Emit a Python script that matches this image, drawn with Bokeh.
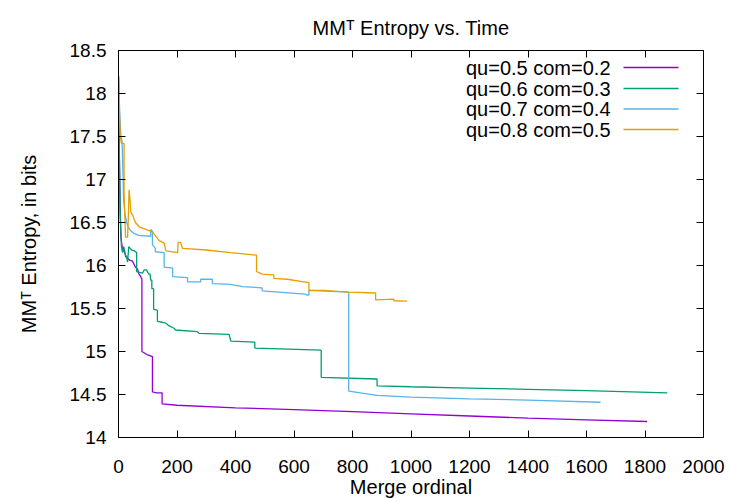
from bokeh.plotting import figure
from bokeh.models import Range1d, FixedTicker, LinearAxis, Label, Arrow, Title
from bokeh.embed import file_html
from bokeh.resources import INLINE

# ---------------- data ----------------
series_names = ["qu=0.5 com=0.2", "qu=0.6 com=0.3", "qu=0.7 com=0.4", "qu=0.8 com=0.5"]
series_colors = ["#9400D3", "#009E73", "#56B4E9", "#E69F00"]

q5_x = [0, 2, 4, 6, 8, 10, 15, 18, 25, 31, 40, 48, 58, 65, 70, 76, 80, 80, 90, 100, 116, 116, 130, 149, 149,
        200, 400, 600, 800, 1000, 1200, 1400, 1600, 1807]
q5_y = [18.2, 17.5, 17.0, 16.6, 16.35, 16.28, 16.16, 16.2, 16.1, 16.08, 16.06, 16.05, 15.98, 15.96, 15.9, 15.87, 15.84,
        15.0, 14.98, 14.96, 14.94, 14.53, 14.52, 14.52, 14.39,
        14.375, 14.345, 14.325, 14.30, 14.275, 14.25, 14.225, 14.205, 14.186]

q6_x = [0, 3, 6, 10, 14, 18, 24, 28, 31, 35, 45, 55, 62, 62, 72, 82, 88, 96, 100, 104, 108, 110, 114, 114, 120, 120,
        133, 133, 150, 162, 172, 190, 195, 270, 276, 378, 384, 466, 466, 693, 693, 884, 884, 998, 1200, 1400,
        1600, 1876]
q6_y = [18.2, 17.3, 16.6, 16.22, 16.15, 16.22, 16.12, 16.1, 16.04, 16.22, 16.18, 16.17, 16.15, 15.93, 15.92, 15.91,
        15.95, 15.95, 15.92, 15.9, 15.9, 15.83, 15.83, 15.73, 15.73, 15.49,
        15.48, 15.35, 15.34, 15.33, 15.30, 15.27, 15.25, 15.23, 15.21, 15.2, 15.12, 15.11, 15.04, 15.015, 14.70,
        14.68, 14.60, 14.59, 14.575, 14.56, 14.545, 14.52]

q7_x = [0, 4, 8, 12, 16, 17, 22, 28, 33, 40, 54, 70, 110, 110, 116, 116, 126, 126, 156, 156, 185, 185, 236, 236,
        281, 281, 321, 321, 383, 424, 491, 491, 547, 639, 645, 651, 651, 787, 787, 884, 998, 1200, 1400, 1648]
q7_y = [18.2, 17.8, 17.5, 17.45, 17.0, 16.8, 16.6, 16.5, 16.45, 16.41, 16.37, 16.35, 16.34, 16.42, 16.4, 16.24,
        16.2, 16.16, 16.15, 15.98, 15.97, 15.87, 15.86, 15.81, 15.81, 15.84, 15.84, 15.79, 15.78, 15.755, 15.74,
        15.705, 15.69, 15.666, 15.655, 15.655, 15.71, 15.69, 14.54, 14.49, 14.47, 14.45, 14.435, 14.41]

q8_x = [0, 3, 6, 10, 19, 19, 24, 31, 34, 36, 40, 42, 49, 58, 71, 93, 116, 139, 156, 162, 202, 204, 212, 219, 300,
        383, 472, 472, 491, 531, 531, 577, 634, 651, 651, 700, 786, 879, 879, 941, 941, 987]
q8_y = [18.2, 17.8, 17.5, 17.42, 17.42, 16.84, 16.33, 16.33, 16.6, 16.88, 16.75, 16.62, 16.58, 16.5, 16.45, 16.42,
        16.39, 16.29, 16.26, 16.17, 16.15, 16.27, 16.27, 16.2, 16.18, 16.15, 16.12, 15.93, 15.9, 15.89, 15.85,
        15.84, 15.81, 15.80, 15.71, 15.71, 15.69, 15.68, 15.6, 15.61, 15.59, 15.585]

x_ticks = [0, 200, 400, 600, 800, 1000, 1200, 1400, 1600, 1800, 2000]
y_ticks = [14, 14.5, 15, 15.5, 16, 16.5, 17, 17.5, 18, 18.5]
y_tick_labels = ["14", "14.5", "15", "15.5", "16", "16.5", "17", "17.5", "18", "18.5"]

title_text = "MM\u1d40 Entropy vs. Time"
x_label = "Merge ordinal"
y_label = "MM\u1d40 Entropy, in bits"

FONT = "Liberation Sans"

# ---------------- figure ----------------
L, R, T, B = 118, 27, 50, 65
W, H = 730, 502
p = figure(width=W, height=H, output_backend="svg", toolbar_location=None,
           x_range=Range1d(0, 2000), y_range=Range1d(14, 18.5),
           min_border_left=L, min_border_right=R, min_border_top=T, min_border_bottom=B,
           x_axis_type=None, y_axis_type=None)
p.grid.visible = False
p.outline_line_color = "black"
p.outline_line_width = 1
p.background_fill_color = "white"
p.border_fill_color = "white"

def style_axis(ax, ticks, labels=None, show=True):
    ax.ticker = FixedTicker(ticks=ticks)
    ax.axis_line_color = "black"
    ax.major_tick_line_color = "black"
    ax.major_tick_in = 7
    ax.major_tick_out = 0
    ax.minor_tick_line_color = None
    if show:
        ax.major_label_text_font = FONT
        ax.major_label_text_font_size = "19px"
        ax.major_label_text_color = "black"
        if labels is not None:
            ax.major_label_overrides = {t: l for t, l in zip(ticks, labels)}
    else:
        ax.major_label_overrides = {t: "" for t in ticks}
        ax.major_label_text_font_size = "1px"
        ax.major_label_standoff = 0

xb = LinearAxis()
style_axis(xb, x_ticks)
xb.major_label_standoff = 22
xb.axis_label = x_label
xb.axis_label_text_font = FONT
xb.axis_label_text_font_size = "20px"
xb.axis_label_text_font_style = "normal"
xb.axis_label_text_color = "black"
xb.axis_label_standoff = 0
p.add_layout(xb, "below")

yl = LinearAxis()
style_axis(yl, y_ticks, y_tick_labels)
yl.major_label_standoff = 12
yl.axis_label = y_label
yl.axis_label_text_font = FONT
yl.axis_label_text_font_size = "20px"
yl.axis_label_text_font_style = "normal"
yl.axis_label_text_color = "black"
yl.axis_label_standoff = 27
p.add_layout(yl, "left")

xt = LinearAxis()
style_axis(xt, x_ticks, show=False)
p.add_layout(xt, "above")

yr = LinearAxis()
style_axis(yr, y_ticks, show=False)
p.add_layout(yr, "right")

p.add_layout(Title(text=title_text, align="center", text_font=FONT, text_font_size="20px",
                   text_font_style="normal", text_color="black", standoff=23), "above")

# ---------------- lines ----------------
all_x = [q5_x, q6_x, q7_x, q8_x]
all_y = [q5_y, q6_y, q7_y, q8_y]
for xs, ys, c in zip(all_x, all_y, series_colors):
    p.line(xs, ys, line_color=c, line_width=1.3)

# ---------------- legend (text left, sample right) ----------------
FH = H - T - B  # frame height
def sy(py):
    return FH - (py - T)
def sx(px):
    return px - L

row_py = [67, 88, 108.5, 129]
for name, c, py in zip(series_names, series_colors, row_py):
    p.add_layout(Label(x=sx(610), y=sy(py), x_units="screen", y_units="screen", text=name,
                       text_font=FONT, text_font_size="20px", text_align="right",
                       text_baseline="middle", text_color="black"))
    p.add_layout(Arrow(end=None, x_start=sx(623), y_start=sy(py), x_end=sx(678), y_end=sy(py),
                       start_units="screen", end_units="screen", line_color=c, line_width=1.3))

open("out.html", "w").write(file_html(p, INLINE))
